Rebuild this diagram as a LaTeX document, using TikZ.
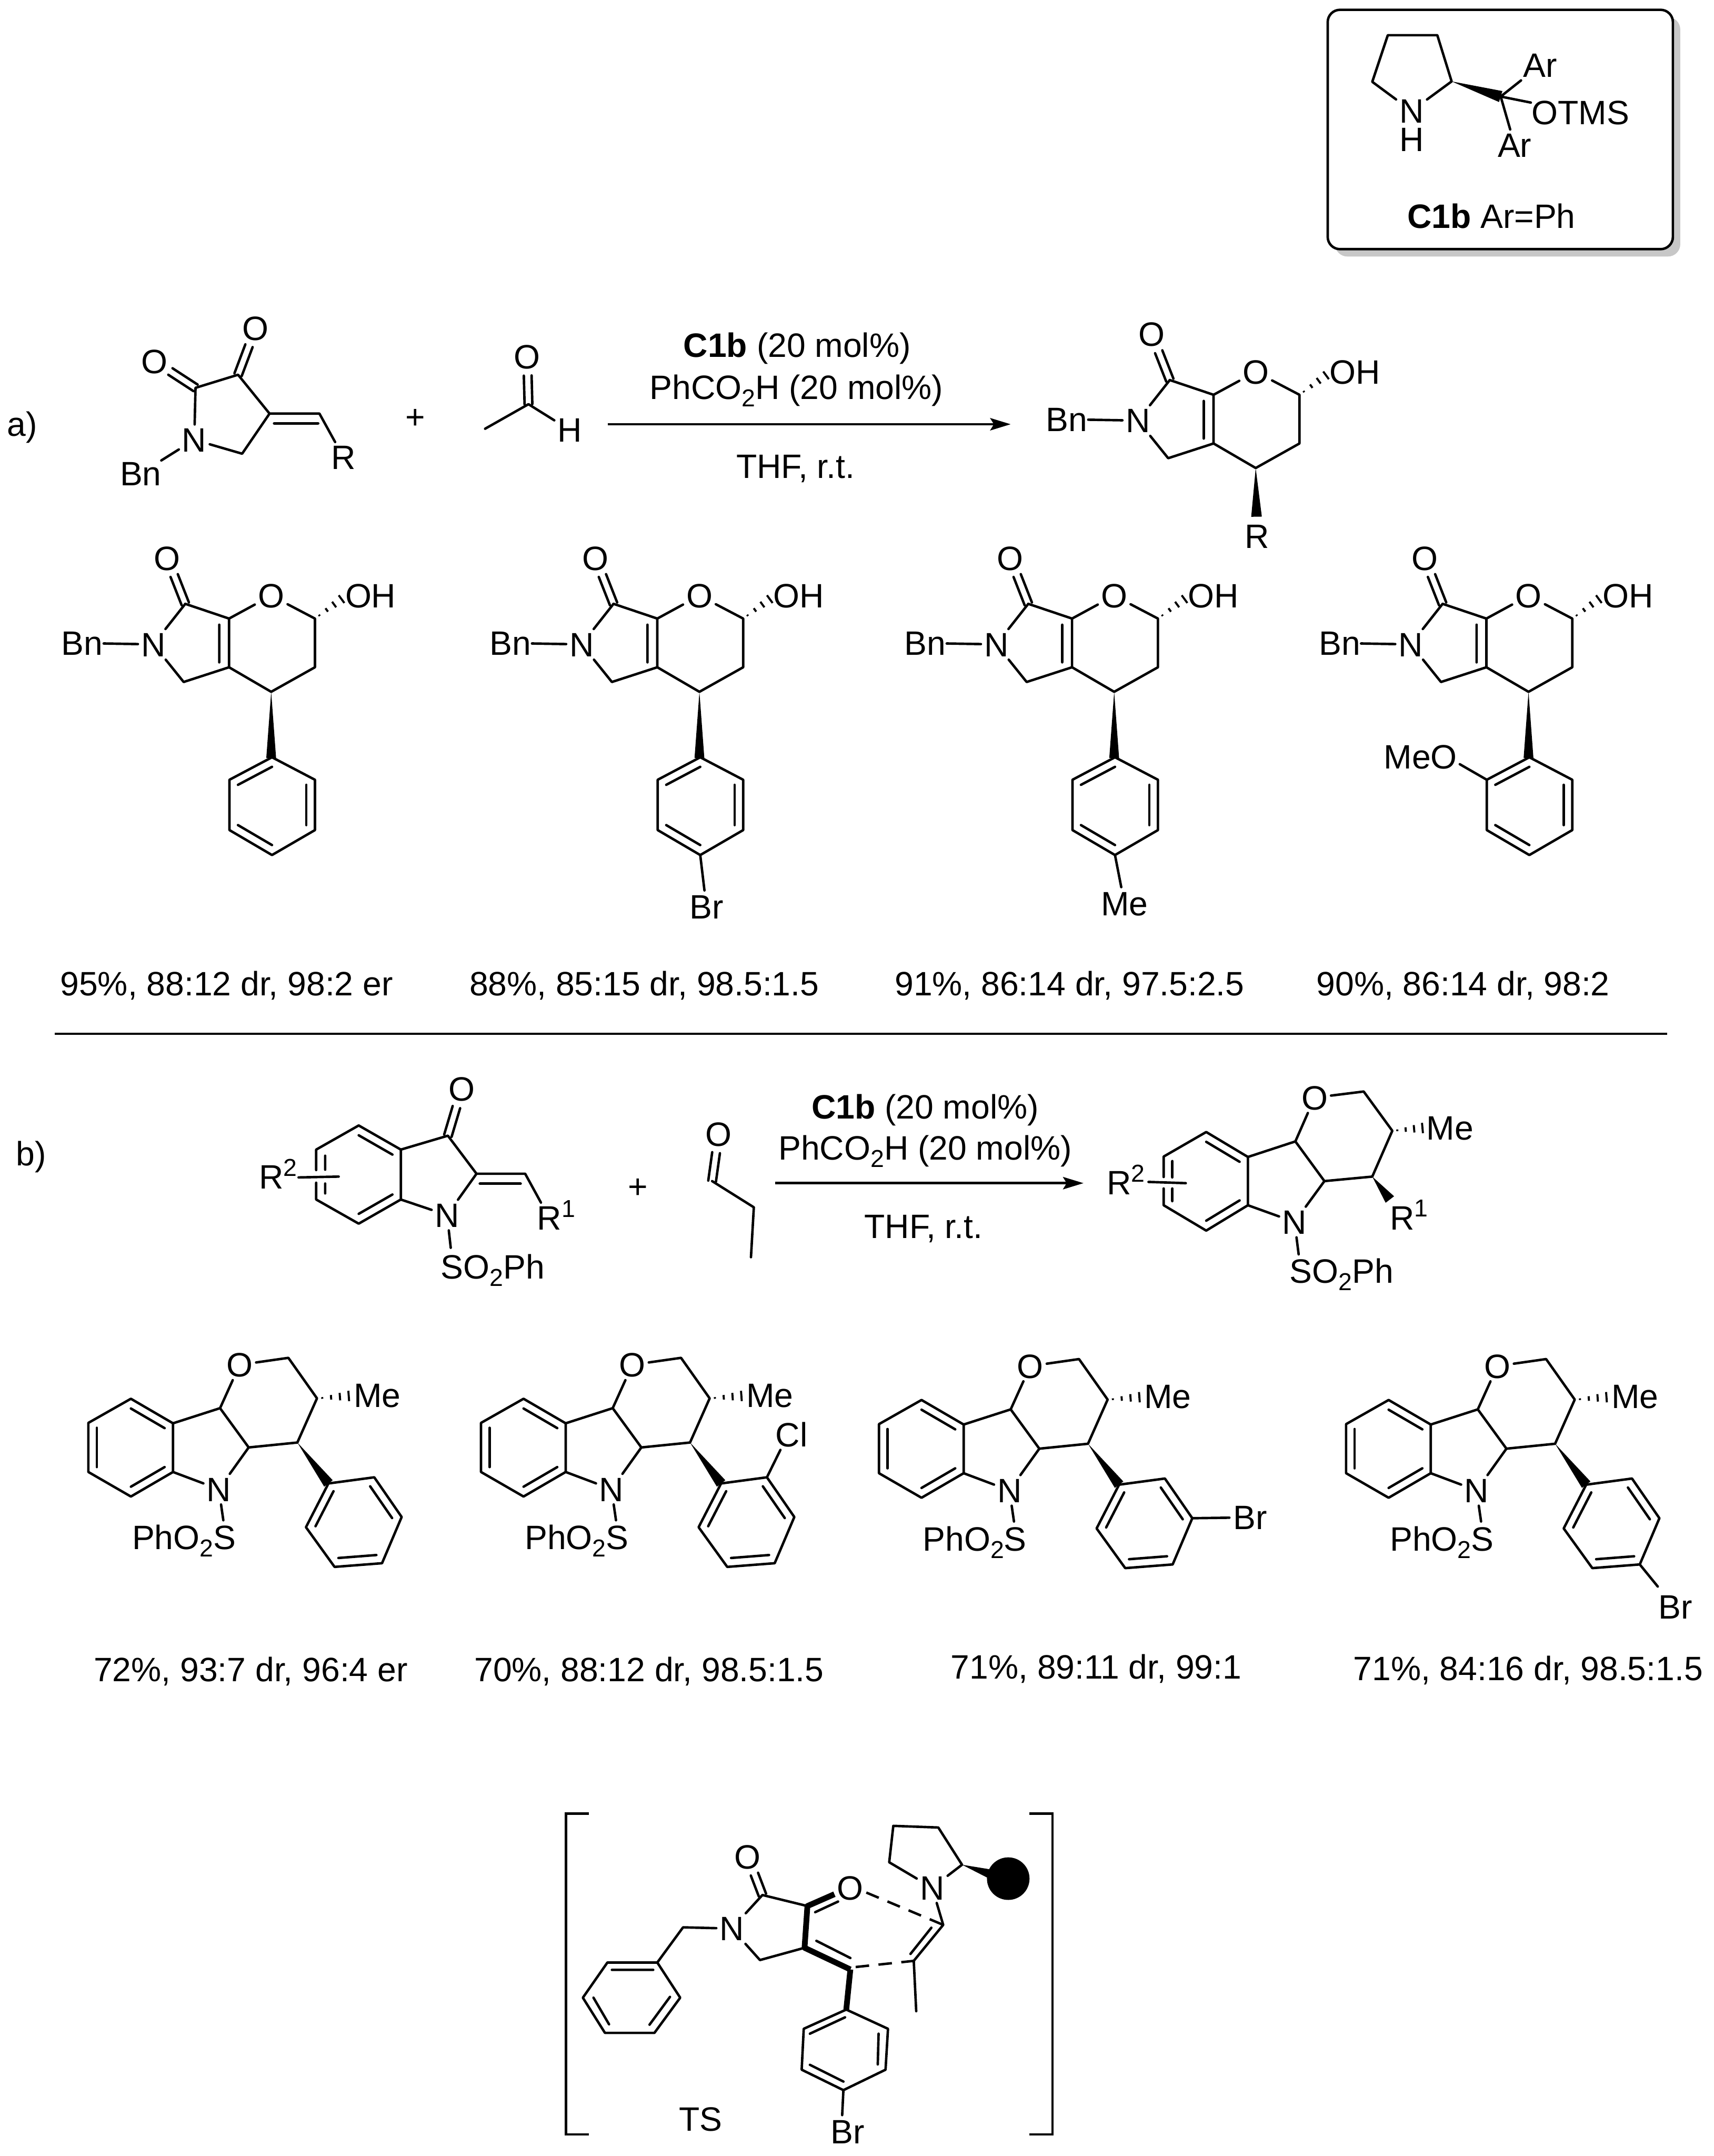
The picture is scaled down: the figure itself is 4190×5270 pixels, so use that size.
\documentclass[tikz,border=0pt]{standalone}
\usepackage{fontspec}
\setmainfont{Liberation Sans}
\usetikzlibrary{calc,arrows.meta}
\newcommand\wdg[3]{\fill (#1) -- ($(#2)!#3!90:(#1)$) -- ($(#2)!#3!-90:(#1)$) -- cycle;}
\newcommand\hsh[3]{\foreach \t in {0.16,0.43,0.70,0.97}{\pgfmathsetmacro\hw{\t*#3}\coordinate (hp) at ($(#1)!\t!(#2)$);\draw[line width=.05cm,line cap=butt] ($(hp)!\hw cm!90:(#2)$) -- ($(hp)!\hw cm!-90:(#2)$);}}
\newcommand\dbo[2]{\coordinate (dbe) at ($(#2)!.46cm!(#1)$);\draw ($(#1)!.095cm!90:(#2)$) -- ($(dbe)!.095cm!-90:(#1)$);\draw ($(#1)!.095cm!-90:(#2)$) -- ($(dbe)!.095cm!90:(#1)$);}
\newcommand\inl[3]{\draw ($(#1)!.2!(#3)$) -- ($(#2)!.2!(#3)$);}
\newcommand\sbsc[1]{\raisebox{-.18cm}{\fontsize{17}{18}\selectfont #1}}
\newcommand\spsc[1]{\rlap{\raisebox{.31cm}{\fontsize{17}{18}\selectfont #1}}}
% core of series a: #1 prefix, (#2,#3) the stereocentre
\newcommand\coreA[3]{\begin{scope}[shift={(#2,#3)}]
\coordinate (#1c4) at (0,0);\coordinate (#1c5) at (107,-60);\coordinate (#1c6) at (107,-179);
\coordinate (#1c7a) at (-103,-179);\coordinate (#1c3a) at (-103,-60);\coordinate (#1co) at (-210,-215);
\coordinate (#1ch) at (-214,-24);\coordinate (#1he) at (174,-228);
\coordinate (#1i1) at (-127,-164);\coordinate (#1i2) at (-127,-72);
\node[atom] (#1o) at (0,-235) {O};
\node[atom] (#1ok) at (-254,-327) {O};
\node[atom] (#1n) at (-288,-116) {N};
\node[lbl,tight] (#1bn) at (-462,-119) {Bn};
\node[lbl] (#1oh) at (243,-235) {OH};
\draw (#1c7a) -- (#1o) (#1o) -- (#1c6) -- (#1c5) -- (#1c4) -- (#1c3a) -- (#1c7a) -- (#1co);
\draw (#1co) -- (#1n) (#1n) -- (#1ch) -- (#1c3a) (#1i1) -- (#1i2) (#1n) -- (#1bn);
\dbo{#1co}{#1ok}
\hsh{#1c6}{#1he}{.12}
\end{scope}}
% aryl of series a
\newcommand\arA[3]{\begin{scope}[shift={(#2,#3)}]
\coordinate (#1p1) at (2,160);\coordinate (#1p2) at (107,215);\coordinate (#1p3) at (107,338);
\coordinate (#1p4) at (2,399);\coordinate (#1p5) at (-102,338);\coordinate (#1p6) at (-102,215);
\coordinate (#1pc) at (2,277);
\coordinate (#1w) at (0,162);
\draw (#1p1) -- (#1p2) -- (#1p3) -- (#1p4) -- (#1p5) -- (#1p6) -- cycle;
\inl{#1p1}{#1p6}{#1pc}\inl{#1p2}{#1p3}{#1pc}\inl{#1p4}{#1p5}{#1pc}
\end{scope}\wdg{#1c4}{#1w}{.12cm}}
% core of series b: #1 prefix, (#2,#3) carbon carrying the aryl
\newcommand\coreB[3]{\begin{scope}[shift={(#2,#3)}]
\coordinate (#1r) at (0,0);\coordinate (#1ch) at (-22,-207);\coordinate (#1cm) at (48,-108);
\coordinate (#1c9) at (-189,-84);\coordinate (#1c3) at (-119,12);\coordinate (#1c4b) at (-304,-47);
\coordinate (#1c8) at (-304,72);\coordinate (#1b1) at (-407,-107);\coordinate (#1b2) at (-511,-48);
\coordinate (#1b3) at (-511,72);\coordinate (#1b4) at (-407,132);\coordinate (#1bc) at (-407,12);
\coordinate (#1he) at (128,-114);\coordinate (#1se) at (-181,190);
\node[atom] (#1o) at (-141,-190) {O};
\node[atom] (#1n) at (-192,114) {N};
\node[lbl] (#1me) at (195,-116) {Me};
\node[lbl] (#1s) at (-277,232) {PhO\sbsc{2}S};
\draw (#1c8) -- (#1c4b) -- (#1b1) -- (#1b2) -- (#1b3) -- (#1b4) -- cycle;
\inl{#1c4b}{#1b1}{#1bc}\inl{#1b2}{#1b3}{#1bc}\inl{#1b4}{#1c8}{#1bc}
\draw (#1c4b) -- (#1c9) -- (#1c3) -- (#1r) -- (#1cm) -- (#1ch) -- (#1o) (#1o) -- (#1c9);
\draw (#1c8) -- (#1n) (#1n) -- (#1c3) (#1n) -- (#1se);
\hsh{#1cm}{#1he}{.13}
\coordinate (#1q1) at (76,100);\coordinate (#1q2) at (188,85);\coordinate (#1q3) at (255,182);
\coordinate (#1q4) at (207,295);\coordinate (#1q5) at (91,304);\coordinate (#1q6) at (21,207);
\coordinate (#1qc) at (138,195);
\draw (#1q1) -- (#1q2) -- (#1q3) -- (#1q4) -- (#1q5) -- (#1q6) -- cycle;
\inl{#1q1}{#1q6}{#1qc}\inl{#1q2}{#1q3}{#1qc}\inl{#1q4}{#1q5}{#1qc}
\wdg{#1r}{#1q1}{.13cm}
\end{scope}}
\begin{document}
\begin{tikzpicture}[x=.01cm,y=-.01cm,line width=.06cm,line cap=round,line join=round,
 every node/.style={font=\fontsize{23.5}{28}\selectfont},
 lbl/.style={inner sep=0pt,outer sep=.1cm,text height=.59cm,text depth=0pt},
 atom/.style={inner sep=0pt,outer sep=.08cm,text height=.59cm,text depth=0pt},
 tight/.style={outer sep=.02cm},
 rxn/.style={-{Stealth[length=.5cm,width=.3cm,inset=.09cm]},line cap=butt}]
\useasboundingbox (0,0) rectangle (4190,5270);
\fill[white] (0,0) rectangle (4190,5270);
% catalyst box
\fill[black!22,rounded corners=.3cm] (3264,42) rectangle (4108,627);
\draw[fill=white,rounded corners=.3cm] (3246,24) rectangle (4090,609);
\coordinate (k1) at (3393,86);\coordinate (k2) at (3514,86);\coordinate (k3) at (3549,199);
\coordinate (k5) at (3355,200);\coordinate (kq) at (3669,236);
\node[atom] (kn) at (3451,271) {N};
\node[atom,outer sep=0pt] (kh) at (3451,341) {H};
\node[atom] (ka1) at (3766,159) {Ar};
\node[atom] (ka2) at (3703,354) {Ar};
\node[lbl,tight] (kot) at (3864,275) {OTMS};
\node[lbl] (kcap) at (3646,528) {\textbf{C1b} Ar=Ph};
\draw (kn) -- (k5) -- (k1) -- (k2) -- (k3) -- (kn);
\wdg{k3}{kq}{.14cm}
\draw (kq) -- (ka1) (kq) -- (ka2) (kq) -- (kot);
% reaction a: substrate
\coordinate (s2) at (478,948);\coordinate (s3) at (582,916);\coordinate (s4) at (659,1011);
\coordinate (s5) at (592,1109);\coordinate (sc) at (781,1011);
\coordinate (si1) at (670,1035);\coordinate (si2) at (778,1035);
\node[atom] (sn) at (475,1075) {N};
\node[atom] (so1) at (378,883) {O};
\node[atom] (so2) at (625,802) {O};
\node[lbl,tight] (sbn) at (344,1157) {Bn};
\node[atom] (sr) at (840,1118) {R};
\draw (sn) -- (s2) -- (s3) -- (s4) -- (s5) -- (sn) (s4) -- (sc) -- (sr) (si1) -- (si2) (sn) -- (sbn);
\dbo{s2}{so1}\dbo{s3}{so2}
\node (alab) at (54,1037) [lbl] {a)};
\node (pa) at (1015,1019) [lbl] {+};
\coordinate (ac) at (1292,988);\coordinate (am) at (1186,1048);
\node[atom] (ao) at (1289,872) {O};
\node[atom] (ah) at (1393,1051) {H};
\draw (am) -- (ac) -- (ah);
\dbo{ac}{ao}
\coordinate (ra1) at (1486,1037);\coordinate (ra2) at (2471,1037);
\draw[rxn] (ra1) -- (ra2);
\node[lbl] (ta1) at (1949,843) {\textbf{C1b} (20 mol\%)};
\node[lbl] (ta2) at (1947,947) {PhCO\sbsc{2}H (20 mol\%)};
\node[lbl] (ta3) at (1945,1140) {THF, r.t.};
% product a
\coreA{m}{3070}{1144}
\coordinate (mw) at (3072,1263);
\wdg{mc4}{mw}{.13cm}
\node[atom] (mr) at (3073,1310) {R};
% series a
\coreA{a}{663}{1691}\arA{a}{663}{1691}
\coreA{b}{1710}{1691}\arA{b}{1710}{1691}
\node[lbl] (bbr) at (1727,2216) {Br};
\draw (bp4) -- (bbr);
\coreA{c}{2724}{1691}\arA{c}{2724}{1691}
\node[lbl] (cme) at (2749,2208) {Me};
\draw (cp4) -- (cme);
\coreA{d}{3737}{1691}\arA{d}{3737}{1691}
\node[lbl] (dmeo) at (3473,1849) {MeO};
\coordinate (dme) at (3569,1868);
\draw (dp6) -- (dme);
\node[lbl] (ya1) at (554,2404) {95\%, 88:12 dr, 98:2 er};
\node[lbl] (ya2) at (1575,2404) {88\%, 85:15 dr, 98.5:1.5};
\node[lbl] (ya3) at (2615,2404) {91\%, 86:14 dr, 97.5:2.5};
\node[lbl] (ya4) at (3577,2404) {90\%, 86:14 dr, 98:2};
\coordinate (l1) at (134,2527);\coordinate (l2) at (4076,2527);
\draw[line cap=butt] (l1) -- (l2);
% reaction b: substrate
\node[lbl] (blab) at (76,2820) {b)};
\coordinate (u3) at (1095,2776);\coordinate (u2) at (1165,2869);\coordinate (uc) at (1284,2869);
\coordinate (u7a) at (980,2932);\coordinate (u3a) at (980,2810);\coordinate (ub1) at (877,2751);
\coordinate (ub2) at (773,2810);\coordinate (ub3) at (773,2932);\coordinate (ub4) at (877,2991);
\coordinate (ubc) at (877,2871);
\coordinate (ug1) at (773,2860);\coordinate (ug2) at (773,2891);
\coordinate (uh1) at (795,2825);\coordinate (uh2) at (795,2859);\coordinate (uh3) at (795,2893);\coordinate (uh4) at (795,2917);
\coordinate (uw1) at (730,2878);\coordinate (uw2) at (828,2876);
\coordinate (ui1) at (1173,2893);\coordinate (ui2) at (1273,2893);
\coordinate (use) at (1102,3050);
\node[atom] (uo) at (1129,2662) {O};
\node[atom] (un) at (1093,2970) {N};
\node[atom] (ur) at (1343,2977) {R\spsc{1}};
\node[atom] (urr) at (663,2876) {R\spsc{2}};
\node[lbl] (us) at (1205,3096) {SO\sbsc{2}Ph};
\draw (ug1) -- (ub2) -- (ub1) -- (u3a) -- (u7a) -- (ub4) -- (ub3) -- (ug2);
\inl{ub1}{u3a}{ubc}\inl{u7a}{ub4}{ubc}
\draw (uh1) -- (uh2) (uh3) -- (uh4) (uw1) -- (uw2);
\draw (u3a) -- (u3) -- (u2) -- (uc) -- (ur) (ui1) -- (ui2) (u2) -- (un) (un) -- (u7a) (un) -- (use);
\dbo{u3}{uo}
\node[lbl] (pb) at (1560,2900) {+};
\coordinate (vc) at (1741,2887);\coordinate (v2) at (1843,2951);\coordinate (v3) at (1836,3073);
\node[atom] (vo) at (1757,2772) {O};
\draw (vc) -- (v2) -- (v3);
\dbo{vc}{vo}
\coordinate (rb1) at (1895,2892);\coordinate (rb2) at (2649,2892);
\draw[rxn] (rb1) -- (rb2);
\node[lbl] (tb1) at (2262,2705) {\textbf{C1b} (20 mol\%)};
\node[lbl] (tb2) at (2262,2806) {PhCO\sbsc{2}H (20 mol\%)};
\node[lbl] (tb3) at (2258,2997) {THF, r.t.};
% product b
\coordinate (wb1) at (2949,2767);\coordinate (wb2) at (2845,2827);\coordinate (wb3) at (2845,2946);
\coordinate (wb4) at (2949,3008);\coordinate (w8) at (3051,2946);\coordinate (w4b) at (3051,2828);
\coordinate (wbc) at (2949,2887);
\coordinate (wg1) at (2845,2877);\coordinate (wg2) at (2845,2905);
\coordinate (wh1) at (2866,2838);\coordinate (wh2) at (2866,2878);\coordinate (wh3) at (2866,2905);\coordinate (wh4) at (2866,2936);
\coordinate (ww1) at (2808,2889);\coordinate (ww2) at (2899,2892);
\coordinate (w9) at (3167,2790);\coordinate (w3) at (3238,2887);\coordinate (wr) at (3355,2876);
\coordinate (wm) at (3404,2764);\coordinate (wch) at (3334,2668);\coordinate (whe) at (3480,2757);
\coordinate (wse) at (3175,3066);\coordinate (wwe) at (3398,2932);
\node[atom] (wo) at (3214,2683) {O};
\node[atom] (wn) at (3165,2987) {N};
\node[lbl] (wme) at (3545,2756) {Me};
\node[atom] (wrr) at (3428,2976) {R\spsc{1}};
\node[atom] (wr2) at (2736,2890) {R\spsc{2}};
\node[lbl] (ws) at (3280,3106) {SO\sbsc{2}Ph};
\draw (wg1) -- (wb2) -- (wb1) -- (w4b) -- (w8) -- (wb4) -- (wb3) -- (wg2);
\inl{wb1}{w4b}{wbc}\inl{w8}{wb4}{wbc}
\draw (wh1) -- (wh2) (wh3) -- (wh4) (ww1) -- (ww2);
\draw (w4b) -- (w9) -- (w3) -- (wr) -- (wm) -- (wch) -- (wo) (wo) -- (w9);
\draw (w8) -- (wn) (wn) -- (w3) (wn) -- (wse);
\wdg{wr}{wwe}{.13cm}
\hsh{wm}{whe}{.13}
% series b
\coreB{e}{727}{3526}
\coreB{f}{1687}{3526}
\coordinate (fle) at (1908,3544);
\node[lbl] (fcl) at (1935,3507) {Cl};
\draw (fq2) -- (fle);
\coreB{g}{2660}{3529}
\node[lbl] (gbr) at (3057,3709) {Br};
\draw (gq3) -- (gbr);
\coreB{h}{3802}{3529}
\node[lbl] (hbr) at (4096,3927) {Br};
\coordinate (hle) at (4053,3878);
\draw (hq4) -- (hle);
\node[lbl] (yb1) at (613,4080) {72\%, 93:7 dr, 96:4 er};
\node[lbl] (yb2) at (1587,4080) {70\%, 88:12 dr, 98.5:1.5};
\node[lbl] (yb3) at (2680,4074) {71\%, 89:11 dr, 99:1};
\node[lbl] (yb4) at (3736,4078) {71\%, 84:16 dr, 98.5:1.5};
% transition state
\coordinate (tl1) at (1440,4433);\coordinate (tl2) at (1384,4433);\coordinate (tl3) at (1384,5217);\coordinate (tl4) at (1440,5217);
\coordinate (tr1) at (2517,4433);\coordinate (tr2) at (2573,4433);\coordinate (tr3) at (2573,5217);\coordinate (tr4) at (2517,5217);
\draw[line join=miter,line cap=butt] (tl1) -- (tl2) -- (tl3) -- (tl4) (tr1) -- (tr2) -- (tr3) -- (tr4);
\node[atom] (tn) at (1789,4714) {N};
\node[atom] (tok) at (1828,4538) {O};
\node[atom] (to) at (2079,4614) {O};
\node[atom] (tn2) at (2279,4614) {N};
\node[lbl] (tbr) at (2072,5210) {Br};
\node[lbl] (tts) at (1713,5179) {TS};
\coordinate (tb) at (1670,4711);
\coordinate (p1) at (1607,4797);\coordinate (p2) at (1485,4797);\coordinate (p3) at (1425,4883);
\coordinate (p4) at (1479,4969);\coordinate (p5) at (1600,4969);\coordinate (p6) at (1663,4883);
\draw (tn) -- (tb) -- (p1) -- (p2) -- (p3) -- (p4) -- (p5) -- (p6) -- (p1);
\coordinate (pi1) at (1496,4815);\coordinate (pi2) at (1597,4815);\coordinate (pi3) at (1451,4883);
\coordinate (pi4) at (1489,4948);\coordinate (pi5) at (1588,4949);\coordinate (pi6) at (1638,4881);
\draw (pi1) -- (pi2) (pi3) -- (pi4) (pi5) -- (pi6);
\coordinate (t2) at (1864,4632);\coordinate (t3) at (1974,4659);\coordinate (t4) at (1967,4761);
\coordinate (t5) at (1858,4791);\coordinate (tc) at (2079,4814);\coordinate (tox) at (2040,4630);
\draw (tn) -- (t2) -- (t3) (tn) -- (t5) -- (t4);
\dbo{t2}{tok}
\draw[line width=.14cm,line cap=butt] (tox) -- (t3) -- (t4) -- (tc);
\coordinate (ti1) at (1993,4674);\coordinate (ti2) at (2049,4648);\coordinate (ti3) at (1996,4744);\coordinate (ti4) at (2079,4786);
\draw (ti1) -- (ti2) (ti3) -- (ti4);
\coordinate (a1) at (2069,4912);\coordinate (a2) at (2171,4959);\coordinate (a3) at (2165,5059);
\coordinate (a4) at (2062,5109);\coordinate (a5) at (1960,5059);\coordinate (a6) at (1965,4959);
\draw[line width=.14cm,line cap=butt] (tc) -- (a1);
\draw (a1) -- (a2) -- (a3) -- (a4) -- (a5) -- (a6) -- cycle;
\coordinate (ai1) at (1980,4971);\coordinate (ai2) at (2066,4931);\coordinate (ai3) at (2148,4971);
\coordinate (ai4) at (2146,5046);\coordinate (ai5) at (1980,5047);\coordinate (ai6) at (2062,5088);
\draw (ai1) -- (ai2) (ai3) -- (ai4) (ai5) -- (ai6);
\coordinate (abe) at (2059,5170);
\draw (a4) -- (abe);
\coordinate (e1) at (2306,4705);\coordinate (e2) at (2234,4793);\coordinate (em) at (2240,4916);
\coordinate (ei1) at (2277,4712);\coordinate (ei2) at (2226,4776);
\draw (tn2) -- (e1) -- (e2) -- (em) (ei1) -- (ei2);
\coordinate (d1) at (2118,4626);\coordinate (d2) at (2092,4808);
\draw[dash pattern=on .33cm off .23cm,line cap=butt] (d1) -- (e1);
\draw[dash pattern=on .33cm off .23cm,line cap=butt] (d2) -- (e2);
\coordinate (r1) at (2352,4558);\coordinate (r2) at (2294,4467);\coordinate (r3) at (2184,4463);\coordinate (r4) at (2174,4552);
\draw (tn2) -- (r1) -- (r2) -- (r3) -- (r4) -- (tn2);
\node[circle,fill=black,minimum size=1.04cm,inner sep=0pt] (ball) at (2465,4592) {};
\coordinate (bw) at (2425,4582);
\wdg{r1}{bw}{.12cm}
\end{tikzpicture}
\end{document}
